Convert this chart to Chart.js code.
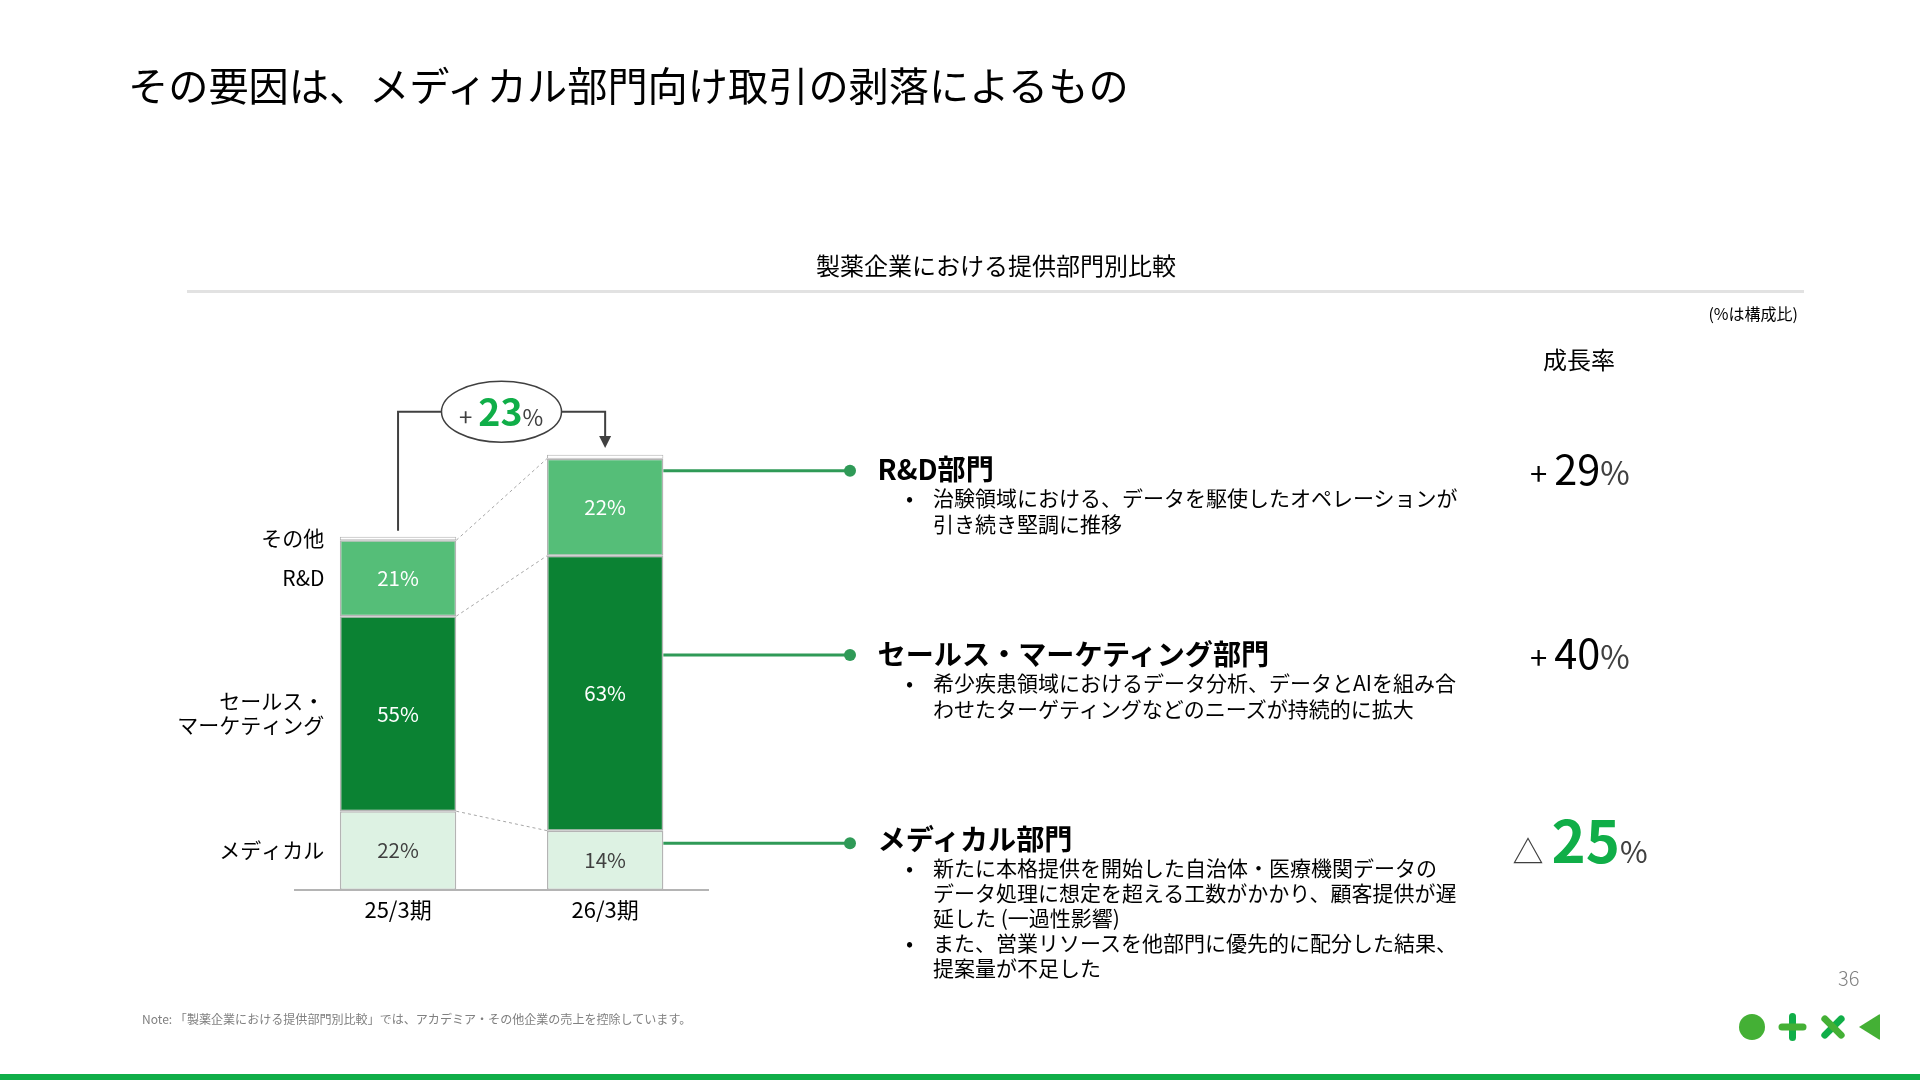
<!DOCTYPE html>
<html lang="ja">
<head>
<meta charset="utf-8">
<title>製薬企業における提供部門別比較</title>
<script src="https://cdn.jsdelivr.net/npm/chart.js@4"></script>
<style>
    html, body { margin: 0; background: #fff; }
    #slide {
        position: relative; width: 1920px; height: 1080px; overflow: hidden;
        font-family: "Noto Sans CJK JP", "Noto Sans", sans-serif; color: #000;
    }
    #chart { position: absolute; left: 0; top: 0; }
    .t { position: absolute; white-space: nowrap; line-height: 1; transform: translateY(-50%); }
    .head { font-size: 28.15px; font-weight: 700; left: 877.5px; }
    .body { font-size: 21px; color: #000; left: 933px; }
    .dot { font-size: 21px; left: 906px; }
    .rate { display: flex; align-items: baseline; position: absolute; white-space: nowrap; line-height: 1; color: #000; }
    .rate .pct { color: #404040; }
    .rate .green { color: #10ae48; font-weight: 700; }
    .rule { position: absolute; left: 187px; top: 290px; width: 1617px; height: 3px; background: #e2e2e2; }
    .band { position: absolute; left: 0; top: 1074px; width: 1920px; height: 6px; background: #10ae48; }
    #logo { position: absolute; left: 1730px; top: 1005px; }
</style>
</head>
<body>
<div id="slide">
    <canvas id="chart" width="1920" height="1080"></canvas>

    <div class="t" style="left:128px;top:83.5px;font-size:40.2px">その要因は、メディカル部門向け取引の剥落によるもの</div>
    <div class="t" style="left:816px;top:265px;font-size:24px">製薬企業における提供部門別比較</div>
    <div class="rule"></div>
    <div class="t" style="right:122px;top:313px;font-size:16px">(%は構成比)</div>
    <div class="t" style="left:1543px;top:359px;font-size:24px">成長率</div>

    <div class="rate" style="left:459px;top:390.5px"><span style="font-size:24px;margin-right:6px;color:#404040">+</span><span class="green" style="font-size:37.5px">23</span><span class="pct" style="font-size:22.5px">%</span></div>

    <div class="t head" style="top:468px">R&amp;D部門</div>
    <div class="t dot" style="top:497px">•</div>
    <div class="t body" style="top:497px">治験領域における、データを駆使したオペレーションが</div>
    <div class="t body" style="top:522.5px">引き続き堅調に推移</div>

    <div class="t head" style="top:653px">セールス・マーケティング部門</div>
    <div class="t dot" style="top:682px">•</div>
    <div class="t body" style="top:682px">希少疾患領域におけるデータ分析、データとAIを組み合</div>
    <div class="t body" style="top:707.5px">わせたターゲティングなどのニーズが持続的に拡大</div>

    <div class="t head" style="top:837.5px">メディカル部門</div>
    <div class="t dot" style="top:867px">•</div>
    <div class="t body" style="top:867px">新たに本格提供を開始した自治体・医療機関データの</div>
    <div class="t body" style="top:892px">データ処理に想定を超える工数がかかり、顧客提供が遅</div>
    <div class="t body" style="top:917px">延した (一過性影響)</div>
    <div class="t dot" style="top:942px">•</div>
    <div class="t body" style="top:942px">また、営業リソースを他部門に優先的に配分した結果、</div>
    <div class="t body" style="top:967px">提案量が不足した</div>

    <div class="rate" style="left:1530px;top:447px"><span style="font-size:31px;margin-right:7px">+</span><span style="font-size:41.5px">29</span><span class="pct" style="font-size:32px">%</span></div>
    <div class="rate" style="left:1530px;top:631px"><span style="font-size:31px;margin-right:7px">+</span><span style="font-size:41.5px">40</span><span class="pct" style="font-size:32px">%</span></div>
    <div class="rate" style="left:1512.5px;top:809px"><span style="font-size:31px;margin-right:8px;color:#404040">△</span><span class="green" style="font-size:58px">25</span><span class="pct" style="font-size:30px">%</span></div>

    <div class="t" style="left:142px;top:1019px;font-size:12.05px;color:#808080">Note: 「製薬企業における提供部門別比較」では、アカデミア・その他企業の売上を控除しています。</div>
    <div class="t" style="left:1838px;top:978px;font-size:20px;font-weight:300;color:#808080">36</div>

    <svg id="logo" width="160" height="44" viewBox="0 0 160 44">
        <circle cx="22" cy="22" r="13" fill="#44b035"/>
        <rect x="59" y="8" width="7" height="28" rx="3.5" fill="#10ae48"/>
        <rect x="48.5" y="18.5" width="28" height="7" rx="3.5" fill="#44b035"/>
        <g transform="rotate(45 103 22)">
            <rect x="99.5" y="7" width="7" height="30" rx="3.5" fill="#10ae48"/>
            <rect x="88" y="18.5" width="30" height="7" rx="3.5" fill="#44b035"/>
        </g>
        <path d="M129 22 L149 9.5 Q150 9 150 10 L150 34 Q150 35 149 34.5 Z" fill="#44b035"/>
    </svg>

    <div class="band"></div>
</div>

<script>
// Данные читаны с картинки: высоты сегментов в индексе (25/3期 = 100), подписи — отдельно

const periods = ["25/3期", "26/3期"];

const medicalValues = [22.3, 16.8];
const salesValues = [55.2, 77.8];
const rndValues = [21.5, 27.5];
const otherValues = [1.0, 1.1];

const medicalLabels = ["22%", "14%"];
const salesLabels = ["55%", "63%"];
const rndLabels = ["21%", "22%"];

const seriesNames = [["メディカル"], ["セールス・", "マーケティング"], ["R&D"], ["その他"]];

// Высоты выносных линий на шкале Y: R&D, セールス, メディカル
const leaderLevels = [118.7, 66.5, 13.2];

const BORDER = "#b4b4b4";
const JP_FONT = '"Noto Sans CJK JP", "Noto Sans", sans-serif';

// ─── Плагины ────────────────────────────────────────────────────────────────

function segment(chart, datasetIndex, barIndex) {
    const bar = chart.getDatasetMeta(datasetIndex).data[barIndex];
    const props = bar.getProps(["x", "y", "base", "width"], true);
    return {
        left: props.x - props.width / 2,
        right: props.x + props.width / 2,
        x: props.x,
        top: props.y,
        bottom: props.base,
    };
}

const barLabels = {
    id: "barLabels",
    afterDatasetsDraw(chart) {
        const ctx = chart.ctx;
        ctx.save();
        ctx.textAlign = "center";
        ctx.textBaseline = "middle";
        ctx.font = `20.5px ${JP_FONT}`;
        chart.data.datasets.forEach((ds, i) => {
            if (!ds.valueLabels) return;
            ds.valueLabels.forEach((label, j) => {
                const s = segment(chart, i, j);
                ctx.fillStyle = ds.labelColor;
                ctx.fillText(label, s.x, (s.top + s.bottom) / 2);
            });
        });

        // Названия серий слева от первого столбика
        ctx.textAlign = "right";
        ctx.fillStyle = "#000";
        ctx.font = `21px ${JP_FONT}`;
        seriesNames.forEach((lines, i) => {
            const s = segment(chart, i, 0);
            const mid = (s.top + s.bottom) / 2 - 0.5;
            lines.forEach((line, k) => {
                const y = mid + (k - (lines.length - 1) / 2) * 24;
                ctx.fillText(line, s.left - 15.5, y);
            });
        });
        ctx.restore();
    },
};

const connectors = {
    id: "connectors",
    afterDatasetsDraw(chart) {
        const ctx = chart.ctx;
        const yScale = chart.scales.y;
        ctx.save();

        // Пунктир между столбиками
        ctx.strokeStyle = "#a6a6a6";
        ctx.lineWidth = 1;
        ctx.setLineDash([3, 3]);
        [2, 1, 0].forEach((i) => {
            const a = segment(chart, i, 0);
            const b = segment(chart, i, 1);
            ctx.beginPath();
            ctx.moveTo(a.right, a.top);
            ctx.lineTo(b.left, b.top);
            ctx.stroke();
        });
        ctx.setLineDash([]);

        // Выносные линии от второго столбика
        const bar2 = segment(chart, 0, 1);
        ctx.strokeStyle = "#2f9a57";
        ctx.fillStyle = "#2f9a57";
        ctx.lineWidth = 3;
        leaderLevels.forEach((level) => {
            const y = yScale.getPixelForValue(level);
            ctx.beginPath();
            ctx.moveTo(bar2.right, y);
            ctx.lineTo(850, y);
            ctx.stroke();
            ctx.beginPath();
            ctx.arc(850, y, 6, 0, Math.PI * 2);
            ctx.fill();
        });

        // Скобка +23% со стрелкой
        const x1 = segment(chart, 3, 0).x;
        const x2 = segment(chart, 3, 1).x;
        const cx = 501.5;
        const cy = 411.7;
        ctx.strokeStyle = "#404040";
        ctx.fillStyle = "#404040";
        ctx.lineWidth = 2;
        ctx.beginPath();
        ctx.moveTo(x1, segment(chart, 3, 0).top - 6);
        ctx.lineTo(x1, cy);
        ctx.lineTo(cx - 60, cy);
        ctx.moveTo(cx + 60, cy);
        ctx.lineTo(x2, cy);
        ctx.lineTo(x2, 437);
        ctx.stroke();
        ctx.beginPath();
        ctx.moveTo(x2 - 6, 436);
        ctx.lineTo(x2 + 6, 436);
        ctx.lineTo(x2, 448);
        ctx.closePath();
        ctx.fill();
        ctx.beginPath();
        ctx.ellipse(cx, cy, 60, 30.5, 0, 0, Math.PI * 2);
        ctx.lineWidth = 1.5;
        ctx.stroke();
        ctx.restore();
    },
};

// ─── График ─────────────────────────────────────────────────────────────────

function stackedSet(label, data, color, valueLabels, labelColor, borderWidth = 1.5) {
    return {
        label,
        data,
        valueLabels,
        labelColor,
        backgroundColor: color,
        borderColor: BORDER,
        borderWidth,
        borderSkipped: false,
    };
}

new Chart(document.getElementById("chart"), {
    type: "bar",
    data: {
        labels: periods,
        datasets: [
            stackedSet("メディカル", medicalValues, "#ddf2e3", medicalLabels, "#404040"),
            stackedSet("セールス・マーケティング", salesValues, "#0b8233", salesLabels, "#fff"),
            stackedSet("R&D", rndValues, "#55be78", rndLabels, "#fff"),
            stackedSet("その他", otherValues, "#fff", null, null, 1),
        ],
    },
    options: {
        responsive: false,
        animation: false,
        barPercentage: 0.562,
        categoryPercentage: 1,
        layout: {padding: {top: 395.4, left: 294.5, right: 1211.3, bottom: 0}},
        scales: {
            x: {
                stacked: true,
                grid: {display: false, drawTicks: false},
                border: {color: BORDER, width: 2},
                ticks: {color: "#000", font: {family: JP_FONT, size: 22}, padding: 6, maxRotation: 0},
                afterFit: (scale) => { scale.height = 190; },
            },
            y: {stacked: true, display: false, min: 0, max: 140},
        },
        plugins: {legend: {display: false}, tooltip: {enabled: false}},
    },
    plugins: [barLabels, connectors],
});
</script>
</body>
</html>
